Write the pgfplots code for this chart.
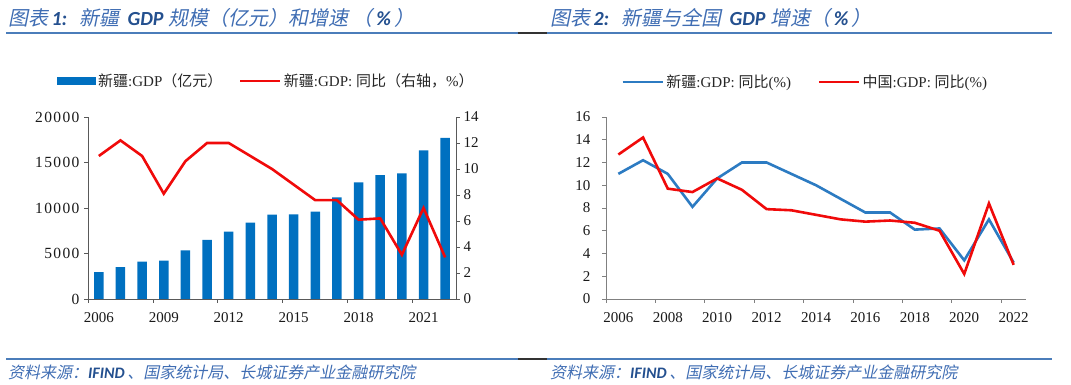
\documentclass[border=0pt]{standalone}
\usepackage{fontspec}
\setmainfont{Liberation Serif}
\newfontfamily\wideserif[LetterSpace=9]{Liberation Serif}
\newfontfamily\cjk{Noto Sans CJK SC}
\newfontfamily\cjkit[FakeSlant=0.2]{Noto Sans CJK SC}
\newfontfamily\carl{Carlito}
\usepackage{pgfplots}
\pgfplotsset{compat=1.18}
\definecolor{barblue}{HTML}{0070C0}
\definecolor{lineblue}{HTML}{2C7BC2}
\definecolor{linered}{HTML}{F00A0A}
\definecolor{titleblue}{HTML}{3F6DB3}
\definecolor{titledark}{HTML}{24508F}
\definecolor{ruleblue}{HTML}{4B7DBA}
\definecolor{axisgray}{HTML}{595959}
\definecolor{axisgrayR}{HTML}{808080}

\pgfplotstableread{
year gdp
2006 2940
2007 3500
2008 4100
2009 4210
2010 5340
2011 6510
2012 7390
2013 8380
2014 9260
2015 9300
2016 9590
2017 11160
2018 12810
2019 13610
2020 13800
2021 16320
2022 17710
}\gdptable

\pgfplotstableread{
year xj cn
2006 11.0 12.7
2007 12.2 14.2
2008 11.0 9.7
2009 8.1 9.4
2010 10.6 10.6
2011 12.0 9.6
2012 12.0 7.9
2013 11.0 7.8
2014 10.0 7.4
2015 8.8 7.0
2016 7.6 6.8
2017 7.6 6.9
2018 6.1 6.7
2019 6.2 6.0
2020 3.4 2.2
2021 7.0 8.4
2022 3.2 3.0
}\growthtable

\pgfplotsset{
  common/.style={
    scale only axis, anchor=south west, height=182pt,
    xmin=2005.5, xmax=2022.5,
    tick align=outside, major tick length=4pt,
    ticklabel style={font=\fontsize{15}{15}\selectfont, text=black!90},
    xticklabel style={yshift=-10pt},
    /pgf/number format/assume math mode=true,
    /pgf/number format/1000 sep={},
    scaled y ticks=false,
  },
}

\begin{document}
\begin{tikzpicture}[x=1pt,y=1pt]
\path[use as bounding box] (0,0) rectangle (1071,385);

% titles
\node[anchor=west, inner sep=0pt, text=titleblue] at (8,367) {\fontsize{20}{22}\selectfont{\cjkit 图表}\,{\carl\bfseries\itshape\color{titledark}1:}\hspace{12pt}{\cjkit 新疆}\ \,{\carl\bfseries\itshape\color{titledark}GDP}\ {\cjkit 规模（亿元）和增速\ （}\,{\carl\bfseries\itshape\color{titledark}\%}\,{\cjkit ）}};
\node[anchor=west, inner sep=0pt, text=titleblue] at (550,367) {\fontsize{20}{22}\selectfont{\cjkit 图表}\,{\carl\bfseries\itshape\color{titledark}2:}\hspace{12pt}{\cjkit 新疆与全国}\ \,{\carl\bfseries\itshape\color{titledark}GDP}\ {\cjkit 增速（}\,{\carl\bfseries\itshape\color{titledark}\%}\,{\cjkit ）}};

% rules
\draw[ruleblue, line width=1.3pt] (6,352) -- (518,352);
\draw[black!80, line width=1.3pt] (518,352) -- (547,352);
\draw[ruleblue, line width=1.3pt] (547,352) -- (1052,352);
\draw[ruleblue, line width=1.3pt] (6,26) -- (518,26);
\draw[black!80, line width=1.3pt] (518,26) -- (547,26);
\draw[ruleblue, line width=1.3pt] (547,26) -- (1052,26);

% footers
\node[anchor=west, inner sep=0pt, text=titleblue] at (8,13) {\fontsize{16}{18}\selectfont{\cjkit 资料来源：}{\carl\bfseries\itshape\color{titledark}IFIND}\,{\cjkit 、国家统计局、长城证券产业金融研究院}};
\node[anchor=west, inner sep=0pt, text=titleblue] at (550,13) {\fontsize{16}{18}\selectfont{\cjkit 资料来源：}{\carl\bfseries\itshape\color{titledark}IFIND}\,{\cjkit 、国家统计局、长城证券产业金融研究院}};

% ---------- left chart: bars ----------
\begin{axis}[common, at={(88pt,86pt)}, width=368pt,
  ymin=0, ymax=20000, ytick={0,5000,10000,15000,20000},
  yticklabel style={font=\fontsize{15.5}{16}\wideserif, xshift=-1pt},
  axis x line*=bottom, axis y line*=left,
  axis line style={draw=axisgray, line width=0.8pt},
  tick style={draw=axisgray, line width=0.8pt},
  xtick={2005.5,2008.5,2011.5,2014.5,2017.5,2020.5}, xticklabels={},
  extra x ticks={2006,2009,2012,2015,2018,2021},
  extra x tick labels={2006,2009,2012,2015,2018,2021},
  extra x tick style={major tick length=0pt},
  ybar, bar width=9.5pt]
\addplot[fill=barblue, draw=none] table[x=year, y=gdp] {\gdptable};
\end{axis}

% ---------- left chart: growth line (right axis) ----------
\begin{axis}[common, at={(88pt,86pt)}, width=368pt,
  ymin=0, ymax=14, ytick={0,2,4,6,8,10,12,14},
  axis y line*=right, axis x line=none,
  axis line style={draw=axisgray, line width=0.8pt},
  tick style={draw=axisgray, line width=0.8pt},
  legend columns=2,
  legend style={at={(-0.084,1.198)}, anchor=west, draw=none, fill=none,
    inner xsep=0pt, inner ysep=0pt,
    font=\fontsize{15}{15}\selectfont, text=black!85,
    nodes={inner xsep=2.5pt, inner ysep=1pt},
    /tikz/every even column/.append style={column sep=14pt}},
  legend cell align=left]
\addlegendimage{legend image code/.code={\fill[barblue] (0pt,-3.5pt) rectangle (38pt,3.5pt);}}
\addlegendentry{{\cjk 新疆}:GDP{\cjk （亿元）}}
\addplot[linered, line width=2.6pt, legend image code/.code={\draw[linered, line width=2.6pt] (0pt,0pt) -- (40pt,0pt);}] table[x=year, y=xj] {\growthtable};
\addlegendentry{{\cjk 新疆}:GDP: {\cjk 同比（右轴，}\%{\cjk ）}}
\end{axis}

% ---------- right chart ----------
\begin{axis}[common, at={(606pt,86pt)}, width=420pt,
  ymin=0, ymax=16, ytick={0,2,4,6,8,10,12,14,16},
  yticklabel style={xshift=-8pt},
  axis x line*=bottom, axis y line*=left,
  axis line style={draw=axisgrayR, line width=0.8pt},
  tick style={draw=axisgrayR, line width=0.8pt},
  xtick={2005.5,2007.5,...,2021.5}, xticklabels={},
  extra x ticks={2006,2008,...,2022},
  extra x tick labels={2006,2008,2010,2012,2014,2016,2018,2020,2022},
  extra x tick style={major tick length=0pt},
  legend columns=2,
  legend style={at={(0.036,1.192)}, anchor=west, draw=none, fill=none,
    inner xsep=0pt, inner ysep=0pt,
    font=\fontsize{15}{15}\selectfont, text=black!85,
    nodes={inner xsep=2.5pt, inner ysep=1pt},
    /tikz/every even column/.append style={column sep=24pt}},
  legend cell align=left]
\addplot[lineblue, line width=2.6pt, legend image code/.code={\draw[lineblue, line width=2.6pt] (0pt,0pt) -- (40pt,0pt);}] table[x=year, y=xj] {\growthtable};
\addlegendentry{{\cjk 新疆}:GDP: {\cjk 同比}(\%)}
\addplot[linered, line width=2.6pt, legend image code/.code={\draw[linered, line width=2.6pt] (0pt,0pt) -- (40pt,0pt);}] table[x=year, y=cn] {\growthtable};
\addlegendentry{{\cjk 中国}:GDP: {\cjk 同比}(\%)}
\end{axis}
\end{tikzpicture}
\end{document}
